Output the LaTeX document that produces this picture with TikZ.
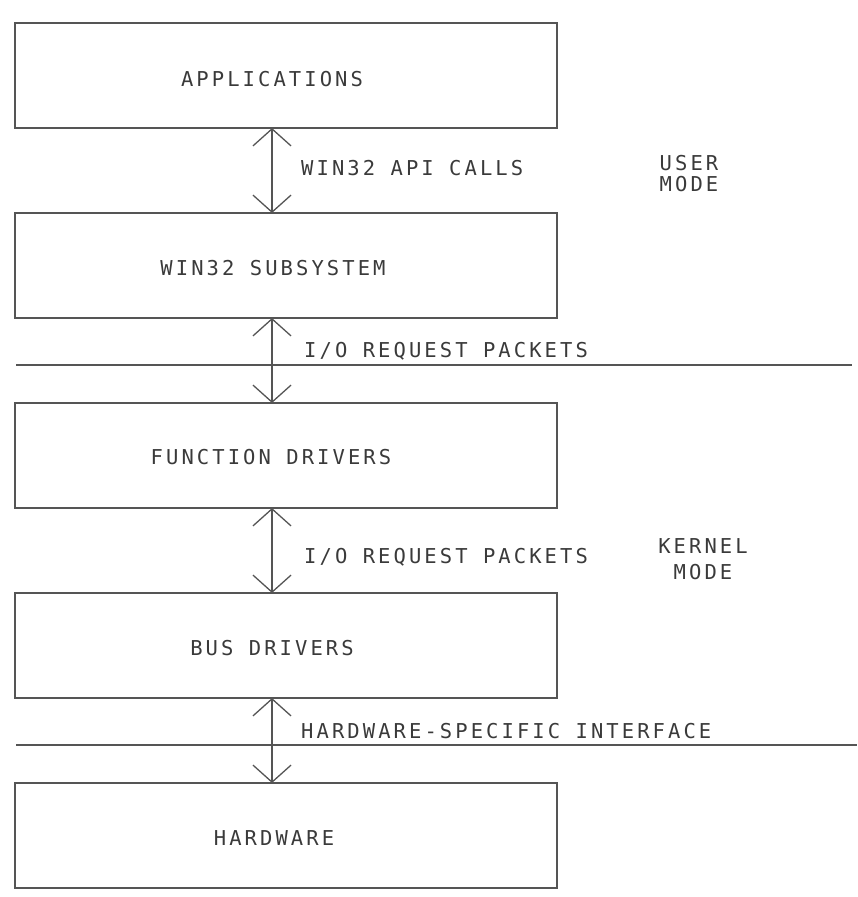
\documentclass[tikz,border=0pt]{standalone}
\usepackage{fontspec}
\newfontfamily\plotfont[LetterSpace=15]{DejaVu Sans Mono}
\usetikzlibrary{arrows.meta}
\definecolor{inkline}{HTML}{555555}
\definecolor{inktext}{HTML}{3A3A3A}
\tikzset{
  x=1pt, y=-1pt,
  layerbox/.style={draw=inkline, line width=1.3pt, minimum width=542pt, minimum height=105pt, inner sep=0pt},
  boxtext/.style={font=\plotfont\fontsize{20.5}{24}\selectfont, text=inktext, inner sep=0pt},
  edgetext/.style={boxtext, anchor=west},
  modetext/.style={boxtext, align=center},
  link/.style={draw=inkline, line width=1.3pt, {Straight Barb[length=17pt,width=38pt,line width=1.3pt]}-{Straight Barb[length=17pt,width=38pt,line width=1.3pt]}, shorten <=0pt, shorten >=0pt},
  divider/.style={draw=inkline, line width=1.3pt}
}
\begin{document}
\begin{tikzpicture}
\useasboundingbox (0,0) rectangle (857,897);
% boxes
\node[layerbox] (app) at (286,75.5) {};
\node[layerbox] (sub) at (286,265.5) {};
\node[layerbox] (func) at (286,455.5) {};
\node[layerbox] (bus) at (286,645.5) {};
\node[layerbox] (hw) at (286,835.5) {};
% box labels
\node[boxtext] (tapp) at (272,79) {APPLICATIONS};
\node[boxtext] (tsub) at (273,268) {WIN32 SUBSYSTEM};
\node[boxtext] (tfunc) at (271,457) {FUNCTION DRIVERS};
\node[boxtext] (tbus) at (272,648) {BUS DRIVERS};
\node[boxtext] (thw) at (274,838) {HARDWARE};
% anchor points for arrows
\coordinate (a1) at (272,128);
\coordinate (b1) at (272,213);
\coordinate (a2) at (272,318);
\coordinate (b2) at (272,403);
\coordinate (a3) at (272,508);
\coordinate (b3) at (272,593);
\coordinate (a4) at (272,698);
\coordinate (b4) at (272,783);
\draw[link] (a1) -- (b1);
\draw[link] (a2) -- (b2);
\draw[link] (a3) -- (b3);
\draw[link] (a4) -- (b4);
% dividers
\coordinate (d1l) at (16,365);
\coordinate (d1r) at (852,365);
\coordinate (d2l) at (16,745);
\coordinate (d2r) at (857,745);
\draw[divider] (d1l) -- (d1r);
\draw[divider] (d2l) -- (d2r);
% edge labels
\node[edgetext] (l1) at (301,168) {WIN32 API CALLS};
\node[edgetext] (l2) at (304,351) {I/O REQUEST PACKETS};
\node[edgetext] (l3) at (304,557) {I/O REQUEST PACKETS};
\node[edgetext] (l4) at (301,731) {HARDWARE-SPECIFIC INTERFACE};
% mode labels
\node[modetext] (umode) at (689,174) {USER\\[-3pt]MODE};
\node[modetext] (kmode) at (703,559) {KERNEL\\[2pt]MODE};
\end{tikzpicture}
\end{document}
